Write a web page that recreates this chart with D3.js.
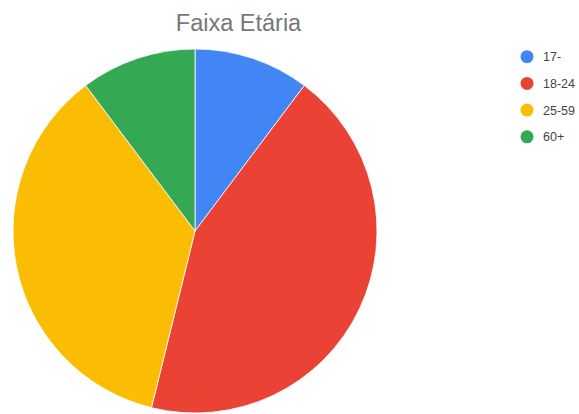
<!DOCTYPE html>
<html>
<head>
<meta charset="utf-8">
<script src="https://cdn.jsdelivr.net/npm/d3@7"></script>
<style>
  body { margin: 0; background: #fff; }
  svg { display: block; font-family: Arial, "Liberation Sans", sans-serif; }
</style>
</head>
<body>
<div id="chart"></div>
<script>
// Faixa Etária - pie chart
const categories = ['17-', '18-24', '25-59', '60+'];
const values = [8, 34, 28, 8];
const colors = ['#4285F4', '#EA4335', '#FBBC04', '#34A853'];

const w = 579, h = 414;
const cx = 195, cy = 231, r = 182;

const data = categories.map(function (c, i) { return { name: c, value: values[i] }; });

const svg = d3.select('#chart').append('svg')
    .attr('width', w)
    .attr('height', h);

const color = d3.scaleOrdinal().domain(categories).range(colors);

const pie = d3.pie()
    .value(function (d) { return d.value; })
    .sort(null);

const arc = d3.arc().innerRadius(0).outerRadius(r);

svg.append('g')
    .attr('transform', 'translate(' + cx + ',' + cy + ')')
    .selectAll('path')
    .data(pie(data))
    .enter().append('path')
    .attr('d', arc)
    .attr('fill', function (d) { return color(d.data.name); })
    .attr('stroke', '#fff')
    .attr('stroke-width', 0.8);

// title
svg.append('text')
    .attr('x', 238.5)
    .attr('y', 31)
    .attr('text-anchor', 'middle')
    .attr('font-size', 23.5)
    .attr('fill', '#777')
    .text('Faixa Etária');

// legend
const legend = svg.append('g')
    .selectAll('g')
    .data(categories)
    .enter().append('g')
    .attr('transform', function (d, i) { return 'translate(527,' + (56.7 + i * 26.7) + ')'; });

legend.append('circle')
    .attr('r', 6.5)
    .attr('fill', function (d) { return color(d); });

legend.append('text')
    .attr('x', 16)
    .attr('y', 4.5)
    .attr('font-size', 12.5)
    .attr('fill', '#444')
    .text(function (d) { return d; });
</script>
</body>
</html>
